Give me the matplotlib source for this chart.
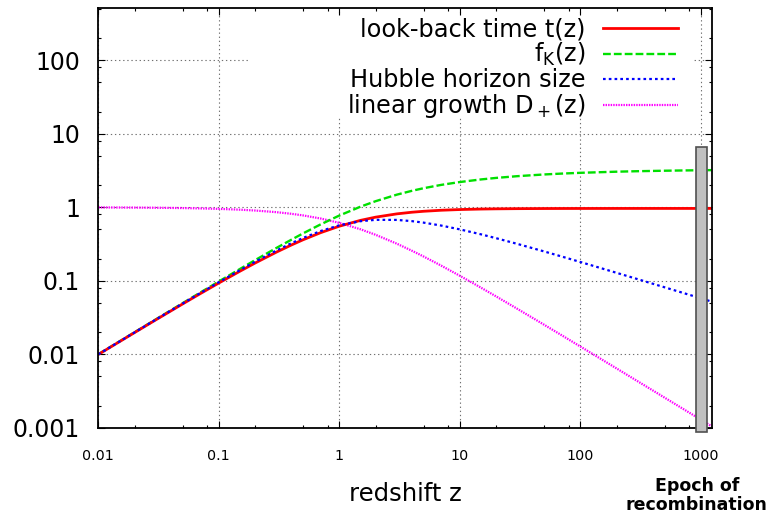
import matplotlib
matplotlib.use("Agg")
import matplotlib.pyplot as plt
from matplotlib.patches import Rectangle
from matplotlib.ticker import LogLocator, NullFormatter, FixedLocator, FixedFormatter

plt.rcParams['font.family'] = ['DejaVu Sans']
plt.rcParams['mathtext.fontset'] = 'dejavusans'

# ---------------- data ----------------
z = [0.01, 0.02, 0.03, 0.05, 0.07, 0.1, 0.15, 0.2, 0.3, 0.4, 0.5, 0.7, 1.0,
     1.5, 2.0, 3.0, 4.0, 5.0, 7.0, 10.0, 15.0, 20.0, 30.0, 50.0, 70.0, 100.0,
     200.0, 300.0, 500.0, 700.0, 1000.0, 1230.0]

lookback_time = [0.00993, 0.01971, 0.02936, 0.04824, 0.06659, 0.09316, 0.1350,
                 0.1741, 0.2447, 0.3065, 0.3609, 0.4511, 0.5523, 0.6634, 0.7331,
                 0.8129, 0.8556, 0.8814, 0.9103, 0.9307, 0.9451, 0.9514, 0.9570,
                 0.9608, 0.9621, 0.9629, 0.9637, 0.9639, 0.9640, 0.9640, 0.9641,
                 0.9641]

f_K = [0.00998, 0.01991, 0.02980, 0.04943, 0.06888, 0.09771, 0.1448, 0.1907,
       0.2789, 0.3616, 0.4410, 0.5849, 0.7714, 1.019, 1.209, 1.484, 1.674,
       1.816, 2.015, 2.204, 2.392, 2.508, 2.649, 2.794, 2.872, 2.942, 3.048,
       3.095, 3.142, 3.167, 3.190, 3.201]

hubble_horizon = [0.009955, 0.01982, 0.02959, 0.04886, 0.06775, 0.09538, 0.1395,
                  0.1812, 0.2573, 0.3241, 0.3821, 0.4748, 0.5680, 0.6462, 0.6742,
                  0.6725, 0.6472, 0.6178, 0.5635, 0.5000, 0.4278, 0.3794, 0.3173,
                  0.2506, 0.2136, 0.1799, 0.1281, 0.1049, 0.08141, 0.06886,
                  0.05765, 0.05200]

linear_growth = [0.9949, 0.9898, 0.9848, 0.9748, 0.9648, 0.9505, 0.9266, 0.9031,
                 0.8577, 0.8148, 0.7747, 0.7026, 0.6129, 0.5013, 0.4221, 0.3193,
                 0.2562, 0.2138, 0.1606, 0.1168, 0.08034, 0.06121, 0.04147,
                 0.02521, 0.01811, 0.01273, 0.006396, 0.004271, 0.002566,
                 0.001834, 0.001284, 0.001044]

series_labels = ['look-back time t(z)', r'f$_\mathrm{K}$(z)',
                 'Hubble horizon size', r'linear growth D$_+$(z)']

x_ticks = [0.01, 0.1, 1, 10, 100, 1000]
x_tick_labels = ['0.01', '0.1', '1', '10', '100', '1000']
y_ticks = [0.001, 0.01, 0.1, 1, 10, 100]
y_tick_labels = ['0.001', '0.01', '0.1', '1', '10', '100']

recomb_z_range = (913.0, 1126.0)
recomb_top = 6.6
recomb_bottom = 0.00087

# ---------------- figure ----------------
fig = plt.figure(figsize=(7.7, 5.13), dpi=100)
ax = fig.add_axes([0.12766, 0.16628, 0.79662, 0.81754])
ax.set_xscale('log')
ax.set_yscale('log')
ax.set_xlim(0.01, 1230)
ax.set_ylim(0.001, 510)

ax.plot(z, lookback_time, color='#ff0000', lw=2.0, label=series_labels[0], zorder=2.4)
ax.plot(z, f_K, color='#00e000', lw=1.7, dashes=(3.3, 1.3), label=series_labels[1], zorder=2.3)
ax.plot(z, hubble_horizon, color='#0000ff', lw=1.6, dashes=(1.2, 1.4), label=series_labels[2], zorder=2.5)
ax.plot(z, linear_growth, color='#ff00ff', lw=1.6, dashes=(0.65, 0.5), label=series_labels[3], zorder=2.2)

# ticks
ax.xaxis.set_major_locator(FixedLocator(x_ticks))
ax.xaxis.set_major_formatter(FixedFormatter(x_tick_labels))
ax.yaxis.set_major_locator(FixedLocator(y_ticks))
ax.yaxis.set_major_formatter(FixedFormatter(y_tick_labels))
for axis in (ax.xaxis, ax.yaxis):
    axis.set_minor_locator(LogLocator(base=10, subs=[2, 5, 8], numticks=50))
    axis.set_minor_formatter(NullFormatter())
ax.tick_params(which='both', direction='in', top=True, right=True, width=0.8, color='black')
ax.tick_params(which='major', length=5)
ax.tick_params(which='minor', length=2.5)
ax.tick_params(axis='x', which='major', labelsize=10.3, pad=15)
ax.tick_params(axis='y', which='major', labelsize=17, pad=13.2)
for s in ax.spines.values():
    s.set_linewidth(1.3)
    s.set_color('black')

ax.grid(True, which='major', color='#707070', linestyle=(0, (1.2, 2.5)), lw=0.8)

# opaque key background
ax.add_patch(Rectangle((0.244, 0.741), 0.971 - 0.244, 0.9817 - 0.741,
                       transform=ax.transAxes, facecolor='white', edgecolor='none',
                       zorder=1.8))

leg = ax.legend(loc='upper right', bbox_to_anchor=(0.945, 0.979), frameon=False,
                markerfirst=False, fontsize=17.3, handlelength=3.1,
                handletextpad=0.75, labelspacing=0.0, borderpad=0,
                borderaxespad=0)
leg.set_zorder(5)

ax.xaxis.set_label_coords(0.5, -0.1283)
ax.set_xlabel('redshift z', fontsize=17.5)

# epoch of recombination band
ax.add_patch(Rectangle((recomb_z_range[0], recomb_bottom),
                       recomb_z_range[1] - recomb_z_range[0],
                       recomb_top - recomb_bottom,
                       facecolor='#c0c0c0', edgecolor='#505050', lw=1.2,
                       zorder=3, clip_on=False))
fig.text(697 / 770, (513 - 491) / 513, 'Epoch of', ha='center', va='baseline',
         fontsize=12.5, fontweight='bold')
fig.text(696 / 770, (513 - 510) / 513, 'recombination', ha='center', va='baseline',
         fontsize=12.5, fontweight='bold')

fig.savefig('out.png', dpi=100)
